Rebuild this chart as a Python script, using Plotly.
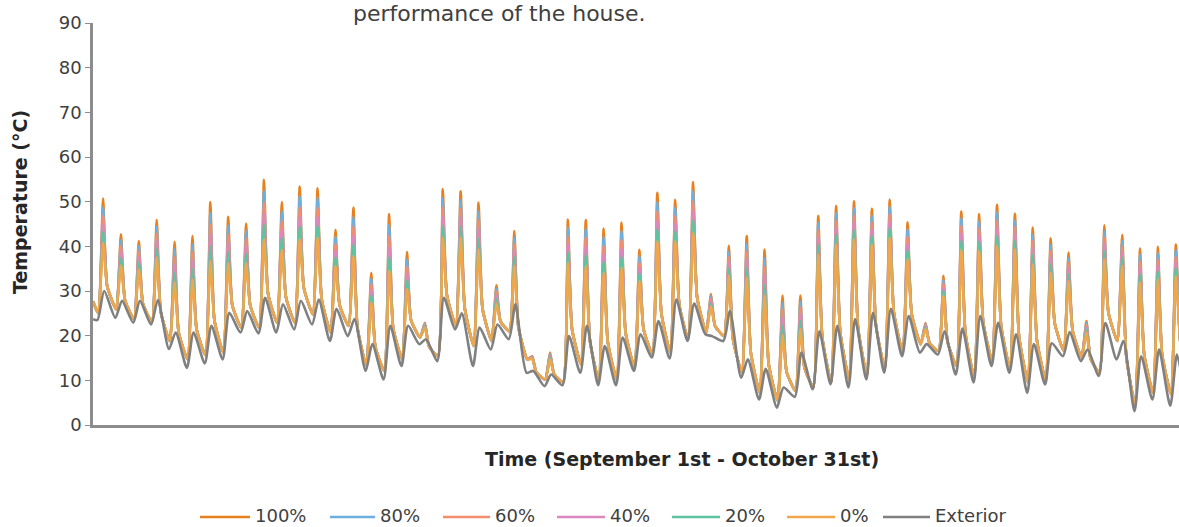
import pandas as pd
import plotly.graph_objects as go

# daily values (Sept 1 - Oct 31), one entry per day
peak_100 = [50.7, 42.7, 41.2, 45.9, 41.0, 42.3, 49.9, 46.6, 45.1, 54.9,
            49.9, 53.4, 53.0, 43.7, 48.7, 34.1, 47.2, 38.7, 22.9, 52.8,
            52.3, 49.8, 31.3, 43.4, 15.4, 16.2, 46.0, 45.9, 44.0, 45.3,
            39.2, 52.0, 50.4, 54.4, 29.3, 40.1, 42.3, 39.3, 29.0, 29.0,
            46.8, 49.0, 50.1, 48.4, 50.5, 45.4, 22.8, 33.4, 47.8, 47.2,
            49.3, 47.3, 44.2, 41.8, 38.6, 23.3, 44.7, 42.5, 39.5, 39.9, 40.4]
peak_80 = [48.8, 41.4, 40.0, 44.3, 39.3, 40.4, 47.4, 44.6, 43.4, 52.4,
           47.9, 51.2, 50.9, 42.2, 46.6, 32.8, 44.8, 37.1, 22.7, 50.7,
           50.3, 47.8, 30.5, 41.9, 15.3, 15.9, 44.2, 43.9, 42.1, 43.4,
           37.9, 49.9, 48.7, 52.3, 28.8, 38.8, 40.5, 37.3, 27.3, 27.6,
           45.2, 47.4, 48.5, 46.9, 48.9, 43.8, 22.6, 32.5, 46.2, 45.6,
           47.6, 45.8, 42.6, 40.3, 37.4, 22.8, 43.3, 41.2, 38.1, 38.5, 39.1]
peak_60 = [46.9, 40.0, 38.8, 42.7, 37.5, 38.6, 44.9, 42.6, 41.7, 49.8,
           45.8, 48.9, 48.8, 40.6, 44.6, 31.6, 42.4, 35.5, 22.5, 48.7,
           48.3, 45.8, 29.7, 40.4, 15.2, 15.6, 42.3, 42.0, 40.2, 41.5,
           36.5, 47.9, 46.9, 50.1, 28.3, 37.6, 38.8, 35.3, 25.6, 26.1,
           43.5, 45.7, 46.9, 45.4, 47.2, 42.2, 22.3, 31.7, 44.6, 44.1,
           45.8, 44.3, 41.1, 38.9, 36.2, 22.3, 41.8, 39.9, 36.6, 37.1, 37.7]
peak_40 = [45.1, 38.7, 37.6, 41.1, 35.8, 36.7, 42.4, 40.7, 40.0, 47.3,
           43.8, 46.7, 46.7, 39.1, 42.5, 30.3, 40.0, 34.0, 22.3, 46.6,
           46.4, 43.8, 29.0, 39.0, 15.1, 15.3, 40.5, 40.0, 38.4, 39.5,
           35.2, 45.8, 45.2, 48.0, 27.8, 36.3, 37.0, 33.4, 23.9, 24.7,
           41.9, 44.1, 45.3, 43.8, 45.6, 40.7, 22.1, 30.8, 43.0, 42.5,
           44.1, 42.7, 39.5, 37.4, 35.0, 21.8, 40.4, 38.6, 35.2, 35.7, 36.4]
peak_20 = [43.2, 37.4, 36.3, 39.5, 34.1, 34.9, 39.9, 38.7, 38.3, 44.8,
           41.8, 44.4, 44.6, 37.5, 40.4, 29.0, 37.5, 32.4, 22.1, 44.5,
           44.4, 41.7, 28.2, 37.5, 14.9, 15.1, 38.6, 38.1, 36.5, 37.6,
           33.9, 43.8, 43.4, 45.8, 27.2, 35.0, 35.2, 31.4, 22.2, 23.2,
           40.3, 42.5, 43.6, 42.3, 44.0, 39.1, 21.8, 30.0, 41.3, 41.0,
           42.3, 41.2, 38.0, 36.0, 33.7, 21.3, 38.9, 37.3, 33.7, 34.4, 35.1]
peak_0 = [40.8, 35.7, 34.8, 37.5, 31.9, 32.5, 36.7, 36.2, 36.2, 41.6,
          39.2, 41.6, 41.9, 35.6, 37.8, 27.4, 34.5, 30.4, 21.8, 41.9,
          41.9, 39.2, 27.2, 35.6, 14.8, 14.7, 36.3, 35.6, 34.1, 35.2,
          32.2, 41.2, 41.2, 43.1, 26.6, 33.4, 33.0, 28.9, 20.0, 21.4,
          38.2, 40.4, 41.6, 40.4, 41.9, 37.1, 21.5, 28.9, 39.3, 39.0,
          40.1, 39.3, 36.0, 34.1, 32.2, 20.7, 37.1, 35.6, 31.9, 32.6, 33.4]
# indoor temperatures early morning and in the evening (all cases merge there)
indoor_low = [25.0, 25.9, 23.7, 23.1, 18.8, 14.7, 15.6, 16.2, 21.8, 21.8,
              22.9, 22.9, 24.8, 20.7, 22.2, 13.2, 12.1, 14.7, 19.6, 15.4,
              22.2, 17.7, 18.8, 21.0, 14.7, 10.2, 9.6, 13.6, 9.9, 10.2,
              12.8, 15.8, 16.2, 19.2, 20.7, 19.9, 11.7, 7.2, 5.4, 7.6,
              8.4, 9.5, 10.2, 11.0, 12.5, 16.2, 18.1, 16.6, 13.2, 10.6,
              14.3, 12.5, 9.5, 9.9, 16.6, 15.1, 11.7, 18.8, 4.3, 7.2, 6.9]
indoor_evening = [31.1, 27.9, 27.2, 25.3, 20.7, 21.5, 23.4, 26.8, 26.8, 29.4,
                  28.6, 30.7, 28.1, 26.9, 21.8, 17.5, 21.6, 23.4, 17.6, 29.1,
                  26.2, 25.9, 23.2, 22.0, 11.8, 11.4, 21.5, 18.9, 18.6, 20.6,
                  21.5, 25.0, 26.9, 28.5, 22.2, 19.3, 16.2, 13.6, 11.9, 12.9,
                  19.5, 20.8, 21.7, 22.3, 25.2, 24.8, 18.3, 18.7, 20.6, 22.9,
                  22.2, 19.9, 19.0, 22.7, 21.1, 14.9, 25.2, 15.3, 15.8, 15.9, 19.5]
outdoor_high = [30.0, 27.8, 27.8, 28.0, 20.7, 20.7, 22.2, 25.1, 25.5, 28.5,
                27.0, 27.8, 28.1, 26.0, 23.7, 18.1, 22.2, 22.2, 19.2, 28.5,
                25.0, 21.8, 22.5, 27.0, 12.1, 11.3, 19.9, 22.2, 17.7, 19.6,
                20.3, 23.3, 28.1, 27.2, 19.9, 25.5, 14.7, 12.6, 8.4, 16.2,
                21.0, 22.2, 23.7, 25.1, 26.0, 24.4, 18.1, 21.0, 21.6, 24.4,
                22.9, 20.3, 18.1, 18.3, 20.8, 16.9, 22.8, 18.8, 15.4, 16.9, 15.8]
outdoor_low = [23.5, 24.0, 22.9, 22.5, 17.0, 12.8, 13.8, 14.7, 20.7, 20.5,
               20.7, 21.4, 22.5, 18.8, 19.9, 12.1, 10.2, 13.2, 18.1, 14.3,
               21.4, 13.2, 16.9, 19.2, 11.7, 8.7, 8.9, 11.7, 8.9, 8.9,
               12.1, 15.1, 14.9, 18.8, 20.3, 18.8, 10.6, 5.7, 3.9, 6.3,
               8.0, 9.1, 8.4, 10.2, 11.7, 15.4, 16.2, 15.8, 11.3, 9.5,
               13.2, 11.7, 7.2, 9.1, 15.4, 14.3, 11.0, 14.7, 3.1, 5.7, 4.3]
indoor_first, indoor_last = 27.7, 12.0
outdoor_first, outdoor_last = 23.7, 8.0

series = ["100%", "80%", "60%", "40%", "20%", "0%"]
peaks = [peak_100, peak_80, peak_60, peak_40, peak_20, peak_0]
colors = ["#E8801F", "#6BB0E0", "#F48C6E", "#DC88C0", "#5EC4A0", "#F2A64C"]
ext_color = "#808080"

start = pd.Timestamp("2021-09-01")
ndays = len(peak_100)
end = start + pd.Timedelta(days=ndays)


def hours(d, h):
    return start + pd.Timedelta(days=d, hours=h)


fig = go.Figure()
for name, pk, col in zip(series, peaks, colors):
    x, y = [start], [indoor_first]
    for d in range(ndays):
        x += [hours(d, 7), hours(d, 13.5), hours(d, 19)]
        y += [indoor_low[d], pk[d], indoor_evening[d]]
    x.append(end)
    y.append(indoor_last)
    fig.add_trace(go.Scatter(x=x, y=y, mode="lines", name=name, showlegend=False,
                             line=dict(color=col, width=2.6, shape="spline", smoothing=0.5)))

x, y = [start], [outdoor_first]
for d in range(ndays):
    x += [hours(d, 6), hours(d, 15)]
    y += [outdoor_low[d], outdoor_high[d]]
x.append(end)
y.append(outdoor_last)
fig.add_trace(go.Scatter(x=x, y=y, mode="lines", name="Exterior", showlegend=False,
                         line=dict(color=ext_color, width=2.6, shape="spline", smoothing=0.7)))


# pixel -> paper coordinates (plot area spans x 93..1179, y 425..23)
def px(v):
    return (v - 93) / 1086


def py(v):
    return (425 - v) / 402


font = "DejaVu Sans, Verdana, sans-serif"

# legend drawn under the axis title: line sample + label
legend_lines = [(200, 250), (330, 375), (443, 490), (557, 605), (672, 720), (787, 835), (883, 930)]
legend_names = series + ["Exterior"]
legend_colors = colors + [ext_color]
shapes, annotations = [], []
for (x0, x1), name, col in zip(legend_lines, legend_names, legend_colors):
    shapes.append(dict(type="line", xref="paper", yref="paper", x0=px(x0), x1=px(x1),
                       y0=py(517), y1=py(517), line=dict(color=col, width=2.5)))
    annotations.append(dict(text=name, xref="paper", yref="paper", x=px(x1 + 3), y=py(515),
                            xanchor="left", yanchor="middle", showarrow=False,
                            font=dict(size=18, color="#404040")))

annotations += [
    dict(text="performance of the house.", xref="paper", yref="paper",
         x=px(499), y=py(13), xanchor="center", yanchor="middle", showarrow=False,
         font=dict(size=22, color="#404040")),
    dict(text="<b>Time (September 1st - October 31st)</b>", xref="paper", yref="paper",
         x=px(682), y=py(459), xanchor="center", yanchor="middle", showarrow=False,
         font=dict(size=19, color="#262626")),
    dict(text="<b>Temperature (°C)</b>", xref="paper", yref="paper", textangle=-90,
         x=px(20), y=py(202), xanchor="center", yanchor="middle", showarrow=False,
         font=dict(size=19, color="#262626")),
]

fig.update_layout(
    width=1179, height=527,
    margin=dict(l=93, r=0, t=23, b=102, autoexpand=False),
    plot_bgcolor="white", paper_bgcolor="white",
    font=dict(family=font, color="#404040", size=18),
    showlegend=False,
    shapes=shapes,
    annotations=annotations,
)
fig.update_xaxes(range=[start, start + pd.Timedelta(hours=60.74 * 24)],
                 showline=True, linecolor="#8C8C8C", linewidth=2.5,
                 showgrid=False, zeroline=False, showticklabels=False, ticks="")
fig.update_yaxes(range=[0, 90], dtick=10, showline=True, linecolor="#8C8C8C", linewidth=2.5,
                 ticks="outside", ticklen=5, tickcolor="#8C8C8C", tickwidth=1,
                 showgrid=False, zeroline=False, tickfont=dict(size=18, color="#404040"))

# drop the default body margin so the figure sits at the top-left corner
fig.write_html("out.html", config={"displayModeBar": False},
               post_script="document.body.style.margin = '0';")
